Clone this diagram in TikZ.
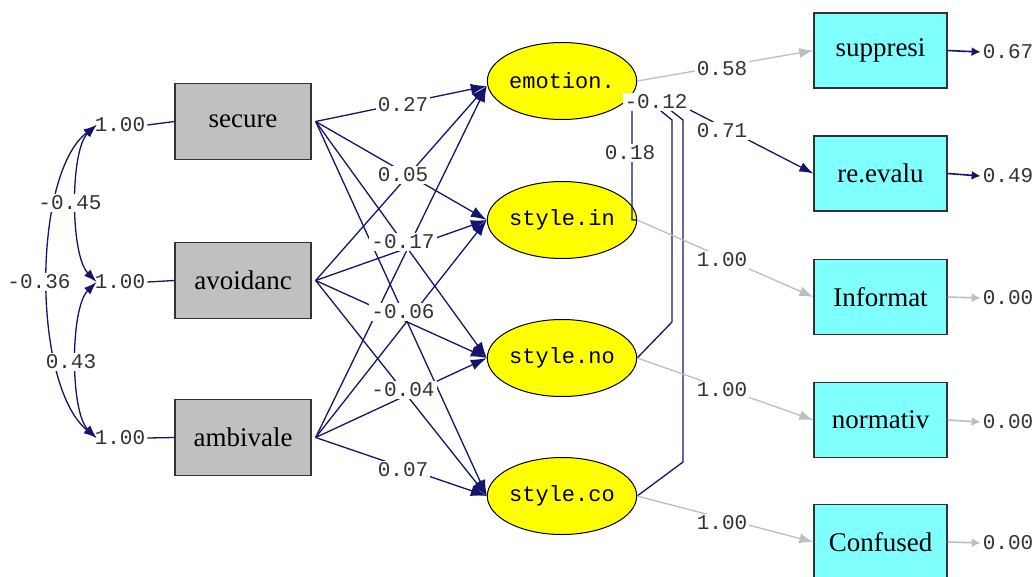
\documentclass[tikz,border=0pt]{standalone}
\usepackage{fontspec}
\setmainfont{Liberation Serif}
\newfontfamily\monof{Liberation Mono}
\usetikzlibrary{shapes.geometric,arrows.meta}
\definecolor{navy}{RGB}{20,20,110}
\definecolor{lgray}{RGB}{190,190,190}
\definecolor{boxgray}{RGB}{192,192,192}
\definecolor{ycol}{RGB}{255,255,0}
\definecolor{ccol}{RGB}{128,255,255}
\tikzset{
  xbox/.style={draw=black!80, line width=1.3pt, fill=boxgray, minimum width=136pt, minimum height=76pt, inner sep=0pt, font=\fontsize{27}{27}\selectfont},
  ybox/.style={xbox, fill=ccol, minimum width=133pt, minimum height=75pt},
  lat/.style={ellipse, draw=black, line width=1pt, fill=ycol, minimum width=131pt, minimum height=77pt, inner sep=0pt, font=\monof\fontsize{22}{22}\selectfont},
  num/.style={font=\monof\fontsize{21}{21}\selectfont, text=black!80, inner sep=2pt, fill=white},
  gl/.style={draw=navy, line width=1.3pt},
  gam/.style={gl, -{Latex[length=16pt,width=11pt]}},
  lod/.style={gl, -{Latex[length=14pt,width=10pt]}},
  fixa/.style={draw=lgray, line width=1.3pt, -{Latex[length=14pt,width=10pt]}},
  cov/.style={gl, {Latex[length=13pt,width=9pt]}-{Latex[length=13pt,width=9pt]}},
  errn/.style={gl, line width=1.6pt, -{Latex[length=9pt,width=9pt]}},
  errg/.style={draw=lgray, line width=1.6pt, -{Latex[length=9pt,width=9pt]}}
}
\begin{document}
\begin{tikzpicture}[x=1pt,y=-1pt]
\useasboundingbox (0,0) rectangle (1036,576);
\fill[white] (0,0) rectangle (1036,576);

% nodes
\node[xbox] (sec) at (243,121.5) {secure};
\node[xbox] (avo) at (243,280.5) {avoidanc};
\node[xbox] (amb) at (243,437.5) {ambivale};
\node[lat] (emo) at (562,81) {emotion.};
\node[lat] (sin) at (562,220) {style.in};
\node[lat] (sno) at (562,358) {style.no};
\node[lat] (sco) at (562,496) {style.co};
\node[ybox] (sup) at (880.5,50.5) {suppresi};
\node[ybox] (rev) at (880.5,173.5) {re.evalu};
\node[ybox] (inf) at (880.5,297) {Informat};
\node[ybox] (nor) at (880.5,420) {normativ};
\node[ybox] (con) at (880.5,542) {Confused};

% variances of exogenous variables
\node[num] (v1) at (120,125) {1.00};
\node[num] (v2) at (120,282) {1.00};
\node[num] (v3) at (120,438) {1.00};
\draw[gl] (v1.east) -- (sec.west);
\draw[gl] (v2.east) -- (avo.west);
\draw[gl] (v3.east) -- (amb.west);

% covariances
\draw[cov] ([xshift=4pt]v1.west) .. controls (70,150) and (70,255) .. ([xshift=4pt]v2.west);
\draw[cov] ([xshift=4pt]v2.west) .. controls (70,308) and (70,412) .. ([xshift=4pt]v3.west);
\draw[cov] ([xshift=4pt]v1.west) .. controls (32,175) and (32,385) .. ([xshift=4pt]v3.west);
\node[num] (c1) at (70,203) {-0.45};
\node[num] (c2) at (39,282) {-0.36};
\node[num] (c3) at (71,362) {0.43};

% gamma paths
\coordinate (so) at ([xshift=4pt]sec.east);
\coordinate (ao) at ([xshift=4pt]avo.east);
\coordinate (mo) at ([xshift=4pt]amb.east);
\coordinate (ei) at ([yshift=-5pt]emo.west);
\foreach \s in {so,ao,mo}{
  \draw[gam] (\s) -- (ei);
  \draw[gam] (\s) -- (sin.west);
  \draw[gam] (\s) -- (sno.west);
  \draw[gam] (\s) -- (sco.west);
}
\node[num] (g1) at (403,105) {0.27};
\node[num] (g2) at (403,175) {0.05};
\node[num] (g3) at (403,242) {-0.17};
\node[num] (g4) at (403,312) {-0.06};
\node[num] (g5) at (403,390) {-0.04};
\node[num] (g6) at (403,470) {0.07};

% psi covariances
\coordinate (eo) at (emo.-15);
\draw[gl] (eo) -- (632,100) -- (632,220) -- (sin.east);
\draw[gl] (eo) -- (650,102) -- (672,120) -- (672,322) -- (sno.east);
\draw[gl] (eo) -- (660,102) -- (683,120) -- (683,462) -- (sco.east);

% loadings
\draw[fixa] (emo.east) -- (sup.west);
\draw[lod] (eo) -- (690,110) -- (rev.west);
\draw[fixa] (sin.east) -- (inf.west);
\draw[fixa] (sno.east) -- (nor.west);
\draw[fixa] (sco.east) -- (con.west);

\node[num] (p1) at (630,153) {0.18};
\node[num] (p2) at (656,102) {-0.12};
\node[num] (l1) at (722,69) {0.58};
\node[num] (l2) at (722,131) {0.71};
\node[num] (l3) at (722,260) {1.00};
\node[num] (l4) at (722,390) {1.00};
\node[num] (l5) at (722,523) {1.00};

% error variances
\node[num] (e1) at (1008,52) {0.67};
\node[num] (e2) at (1008,176) {0.49};
\node[num] (e3) at (1008,298) {0.00};
\node[num] (e4) at (1008,422) {0.00};
\node[num] (e5) at (1008,543) {0.00};
\draw[errn] (sup.east) -- (e1.west);
\draw[errn] (rev.east) -- (e2.west);
\draw[errg] (inf.east) -- (e3.west);
\draw[errg] (nor.east) -- (e4.west);
\draw[errg] (con.east) -- (e5.west);
\end{tikzpicture}
\end{document}
